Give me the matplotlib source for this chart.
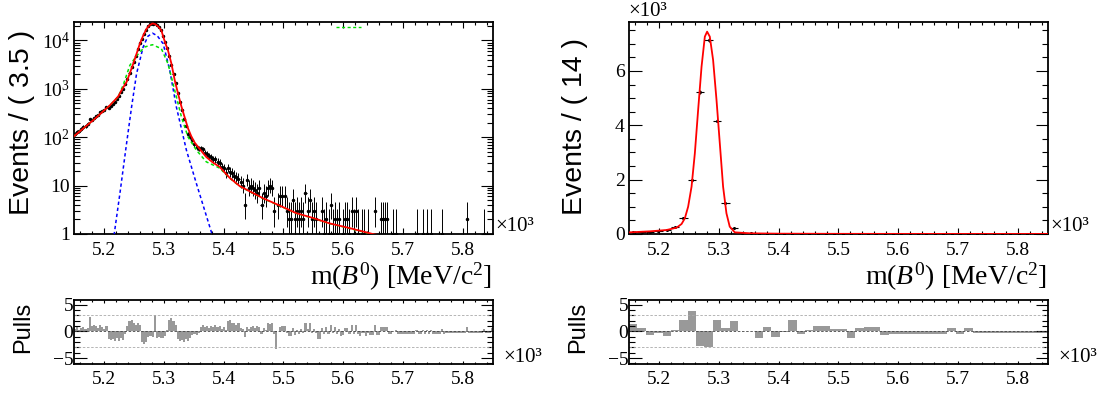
import numpy as np
import matplotlib
matplotlib.use("Agg")
import matplotlib.pyplot as plt
from matplotlib.ticker import MultipleLocator, FixedLocator, FixedFormatter, LogLocator, NullFormatter

plt.rcParams['font.family'] = ['Liberation Serif', 'DejaVu Serif']
plt.rcParams['mathtext.fontset'] = 'custom'
plt.rcParams['mathtext.rm'] = 'Liberation Serif'
plt.rcParams['mathtext.it'] = 'Liberation Serif:italic'
plt.rcParams['mathtext.bf'] = 'Liberation Serif:bold'
plt.rcParams['axes.unicode_minus'] = True

SANS = ['Liberation Sans', 'DejaVu Sans']

# ---------------- data: left (3.5 MeV bins, 5150-5850) ----------------
edges_left = np.linspace(5.15, 5.85, 201)
counts_left = [
    114, 127, 132, 147, 163, 171, 188, 234, 227, 248,
    269, 289, 324, 346, 371, 417, 403, 440, 494, 546,
    620, 696, 849, 1001, 1232, 1584, 2122, 2781, 3624, 4854,
    6560, 8762, 10602, 13253, 16753, 19659, 21582, 22225, 22424, 20577,
    18763, 16432, 12167, 9243, 6945, 4840, 3153, 2025, 1317, 811,
    532, 359, 242, 174, 117, 100, 87, 72, 62, 58,
    59, 56, 48, 45, 40, 39, 35, 35, 31, 29,
    24, 23, 18, 23, 19, 18, 16, 15, 14, 12,
    10, 4, 13, 9, 10, 9, 8, 7, 9, 4,
    7, 6, 9, 10, 9, 3, 0, 4, 6, 6,
    6, 3, 2, 2, 5, 2, 3, 2, 3, 2,
    7, 3, 5, 2, 3, 2, 0, 0, 3, 1,
    2, 1, 4, 1, 2, 1, 2, 0, 1, 2,
    2, 1, 3, 1, 3, 1, 0, 1, 1, 0,
    1, 0, 0, 3, 0, 0, 2, 2, 2, 2,
    0, 0, 1, 1, 0, 0, 0, 0, 0, 0,
    0, 0, 0, 1, 0, 0, 1, 0, 1, 0,
    1, 0, 0, 0, 0, 1, 0, 0, 0, 0,
    0, 0, 0, 0, 0, 0, 0, 2, 0, 0,
    0, 0, 0, 0, 0, 1, 0, 0, 0, 0,
]
pulls_left = [
    0.5, 0.8, 0.3, 0.6, 0.9, 0.5, 0.7, 2.8, 1.0, 1.2,
    1.0, 0.7, 1.2, 0.9, 0.5, 1.1, -1.4, -1.6, -1.5, -1.7,
    -1.3, -1.8, -1.2, -1.6, -0.5, 1.0, 2.0, 2.1, 1.6, 1.3,
    1.5, 1.2, -2.0, -2.3, -1.9, -1.0, -0.8, -1.1, 3.0, -1.2,
    -1.0, -1.3, -1.2, -0.9, 0.3, 2.2, 2.6, 2.0, 1.3, -1.5,
    -1.8, -1.6, -2.0, -1.4, -1.7, -1.2, -0.6, -0.4, -0.6, -0.2,
    0.8, 1.2, 0.9, 1.1, 0.7, 1.0, 0.8, 1.2, 0.9, 1.0,
    0.5, 0.8, 0.3, 2.0, 2.1, 1.5, 1.6, 1.2, 1.6, 0.6,
    0.4, -1.0, 0.9, 0.5, 0.8, 1.0, 0.6, 1.1, 0.9, -0.5,
    0.6, 0.3, 1.5, 1.4, 1.6, -0.4, -3.3, 0.1, 0.8, 1.0,
    1.0, -0.2, -0.9, -0.8, 0.6, -0.6, 0.3, -0.5, 0.4, -0.3,
    1.5, 0.4, 1.5, -0.3, 0.5, -0.2, -1.5, -1.4, 0.6, -0.5,
    0.9, -0.4, 1.3, -0.3, 0.8, -0.4, 0.5, -0.8, -0.6, 0.7,
    0.7, -0.5, 1.2, -0.4, 1.3, -0.4, -0.9, -0.3, -0.2, -0.8,
    -0.2, -0.7, -0.7, 1.3, -0.7, -0.6, 0.8, 0.8, 0.9, 0.9,
    -0.5, -0.5, 0.1, 0.2, -0.5, -0.5, -0.5, -0.5, -0.4, -0.4,
    -0.4, -0.4, -0.4, 0.3, -0.4, -0.4, 0.3, -0.4, 0.3, -0.4,
    0.3, -0.4, -0.4, -0.4, -0.4, 0.4, -0.4, -0.3, -0.3, -0.3,
    -0.3, -0.3, -0.3, -0.3, -0.3, -0.3, -0.3, 0.9, -0.3, -0.3,
    -0.3, -0.3, -0.3, -0.3, -0.3, 0.5, -0.3, -0.3, -0.3, 0.6,
]

# fit curves (mass in GeV, events / bin)
total_m = [5.150, 5.165, 5.182, 5.196, 5.210, 5.218, 5.224, 5.230, 5.2378, 5.243,
           5.249, 5.2545, 5.260, 5.2655, 5.2712, 5.276, 5.2812, 5.286, 5.291, 5.296,
           5.299, 5.303, 5.307, 5.3128, 5.3183, 5.324, 5.3295, 5.335, 5.3405, 5.346,
           5.3517, 5.360, 5.371, 5.382, 5.3933, 5.410, 5.4267, 5.4455, 5.4655, 5.493,
           5.5212, 5.549, 5.5767, 5.6045, 5.630, 5.6517, 5.700, 5.850]
total_n = [105, 150, 224, 320, 457, 580, 700, 960, 1380, 2050,
           3300, 5300, 8540, 12500, 17400, 20500, 22400, 21600, 19200, 16100,
           12000, 8500, 6220, 3300, 1500, 780, 430, 255, 152, 104,
           77, 57, 39, 30, 24.4, 14.5, 9.8, 7.4, 5.5, 3.9,
           2.7, 2.15, 1.66, 1.38, 1.15, 0.98, 0.8, 0.5]

narrow_m = [5.210, 5.2172, 5.2267, 5.2378, 5.2462, 5.2545, 5.2655, 5.2735, 5.2812, 5.289,
            5.299, 5.310, 5.321, 5.3378, 5.3545, 5.3805, 5.390]
narrow_n = [0.3, 1, 6.9, 74, 422, 2050, 7300, 12200, 14100, 12500,
            8540, 2420, 422, 54, 11, 1, 0.3]

wide_m = [5.150, 5.165, 5.182, 5.196, 5.210, 5.218, 5.224, 5.2322, 5.2433, 5.2545,
          5.268, 5.281, 5.296, 5.307, 5.3183, 5.3295, 5.3405, 5.3545, 5.371, 5.3933,
          5.410, 5.4267, 5.4455, 5.4655, 5.493, 5.5212, 5.549, 5.5767, 5.6045, 5.630,
          5.6517, 5.700, 5.850]
wide_n = [105, 150, 224, 320, 455, 575, 690, 1200, 3050, 4800,
          7300, 8150, 6740, 3300, 930, 262, 101, 54, 31, 23,
          14.3, 9.7, 7.3, 5.4, 3.85, 2.67, 2.12, 1.64, 1.36, 1.13,
          0.97, 0.79, 0.5]
wide_stray_m = [5.588, 5.630]
wide_stray_n = [18500, 18500]

# ---------------- data: right (14 MeV bins) ----------------
edges_right = np.linspace(5.15, 5.85, 51)
counts_right = [76, 86, 91, 118, 139, 250, 590, 1975, 5215, 7140,
                4170, 1130, 233, 51, 26, 13, 18, 9, 11, 17,
                8, 9, 10, 10, 7, 7, 2, 6, 7, 6,
                3, 2, 3, 2, 2, 3, 2, 2, 4, 2,
                4, 2, 1, 2, 2, 1, 2, 2, 1, 2]
pulls_right = [1.4, 0.7, -0.75, -0.2, -0.9, 0.2, 2.2, 3.9, -2.7, -3.0,
               2.2, 0.6, 1.9, 0.1, 0.1, -1.25, 0.9, -1.1, -0.1, 2.2,
               -0.5, 0.3, 1.0, 1.1, 0.4, 0.5, -1.2, 0.6, 0.8, 0.9,
               -0.75, -0.55, -0.55, -0.55, -0.5, -0.5, -0.5, -0.45, 0.6, -0.45,
               0.7, -0.3, -0.3, -0.3, -0.3, -0.3, -0.3, -0.3, -0.3, -0.3]
fit_right_m = [5.150, 5.1517, 5.185, 5.2128, 5.2295, 5.2378, 5.2433, 5.2488, 5.2545, 5.260,
               5.2655, 5.2712, 5.2767, 5.2805, 5.285, 5.2905, 5.2962, 5.3017, 5.3072, 5.3128,
               5.3183, 5.3267, 5.3517, 5.400, 5.500, 5.600, 5.700, 5.850]
fit_right_n = [58, 61, 98, 147, 233, 368, 577, 1005, 1741, 2969,
               4563, 6157, 7261, 7445, 7261, 6403, 4931, 3337, 1741, 761,
               270, 61, 25, 12, 6, 4, 3, 2.5]

# garwood 68% intervals for small counts
POIS_LO = [0.0, 0.827, 1.291, 1.633, 1.914, 2.159, 2.380, 2.581, 2.768, 2.943, 3.108]
POIS_HI = [1.841, 2.299, 2.638, 2.918, 3.162, 3.382, 3.583, 3.770, 3.944, 4.110, 4.266]


def poisson_err(n):
    n = np.asarray(n)
    lo = np.where(n <= 10, np.take(POIS_LO, np.minimum(n, 10)), np.sqrt(n + 0.25) - 0.5)
    hi = np.where(n <= 10, np.take(POIS_HI, np.minimum(n, 10)), np.sqrt(n + 0.25) + 0.5)
    return lo, hi


W, H = 1109, 394


def box(x0, y0, x1, y1):
    return [x0 / W, 1 - y1 / H, (x1 - x0) / W, (y1 - y0) / H]


TICK_FS = 14


def style_x(ax, major_len, minor_len, pad):
    ax.set_xlim(5.15, 5.85)
    ax.xaxis.set_major_locator(FixedLocator([5.2, 5.3, 5.4, 5.5, 5.6, 5.7, 5.8]))
    ax.xaxis.set_major_formatter(FixedFormatter(['5.2', '5.3', '5.4', '5.5', '5.6', '5.7', '5.8']))
    ax.xaxis.set_minor_locator(MultipleLocator(0.02))
    ax.tick_params(axis='x', which='major', direction='in', top=True, bottom=True,
                   length=major_len, width=0.8, labelsize=TICK_FS, pad=pad)
    ax.tick_params(axis='x', which='minor', direction='in', top=True, bottom=True,
                   length=minor_len, width=0.8)
    for s in ax.spines.values():
        s.set_linewidth(1.3)


fig = plt.figure(figsize=(W / 100, H / 100), dpi=100)

# ---------------- left top ----------------
ax = fig.add_axes(box(74, 22, 493, 234))
cl = 0.5 * (edges_left[:-1] + edges_left[1:])
cnt = np.array(counts_left)
keep = cnt > 0
lo, hi = poisson_err(cnt[keep])
ax.errorbar(cl[keep], cnt[keep], xerr=0.00175, yerr=[lo, hi], fmt='o', ms=1.5,
            color='k', ecolor='k', elinewidth=0.7, capsize=0, zorder=2)
ax.plot(narrow_m, narrow_n, color='#0000ff', ls=(0, (2.2, 1.8)), lw=1.1, zorder=3)
ax.plot(wide_m, wide_n, color='#00e000', ls=(0, (2.2, 1.8)), lw=1.1, zorder=3)
ax.plot(wide_stray_m, wide_stray_n, color='#00e000', ls=(0, (2.2, 1.8)), lw=1.0, zorder=3)
ax.plot(total_m, total_n, color='#ff0000', lw=1.3, zorder=4)
ax.set_yscale('log')
ax.set_ylim(1, 24000)
ax.yaxis.set_major_locator(FixedLocator([1, 10, 100, 1000, 10000]))
ax.yaxis.set_major_formatter(FixedFormatter(['1', '10', '$10^{2}$', '$10^{3}$', '$10^{4}$']))
ax.yaxis.set_minor_locator(LogLocator(base=10, subs=np.arange(2, 10)))
ax.yaxis.set_minor_formatter(NullFormatter())
ax.tick_params(axis='y', which='major', direction='in', left=True, right=True,
               length=9, width=0.8, labelsize=TICK_FS, pad=3)
ax.tick_params(axis='y', which='minor', direction='in', left=True, right=True, length=4.5, width=0.8)
style_x(ax, 4.5, 2.3, 6)
fig.text(495 / W, 1 - 226 / H, '×10³', fontsize=15, va='center', ha='left')
fig.text(492 / W, 1 - 285 / H, r'm($B^0$) [MeV/c$^2$]', fontsize=20, ha='right', va='baseline')
fig.text(22 / W, 1 - 215 / H, 'Events / ( 3.5 )', family=SANS, fontsize=20.5,
         rotation=90, ha='center', va='bottom')

# ---------------- right top ----------------
ax = fig.add_axes(box(629, 22, 1048, 234))
cr = 0.5 * (edges_right[:-1] + edges_right[1:])
cntr = np.array(counts_right)
ax.errorbar(cr, cntr, xerr=0.007, yerr=np.sqrt(cntr), fmt='o', ms=1.2,
            color='k', ecolor='k', elinewidth=0.8, capsize=0, zorder=2)
ax.plot(fit_right_m, fit_right_n, color='#ff0000', lw=1.3, zorder=4)
ax.set_ylim(0, 7800)
ax.yaxis.set_major_locator(FixedLocator([0, 2000, 4000, 6000]))
ax.yaxis.set_major_formatter(FixedFormatter(['0', '2', '4', '6']))
ax.yaxis.set_minor_locator(MultipleLocator(500))
ax.tick_params(axis='y', which='major', direction='in', left=True, right=True,
               length=9, width=0.8, labelsize=TICK_FS, pad=3)
ax.tick_params(axis='y', which='minor', direction='in', left=True, right=True, length=4.5, width=0.8)
style_x(ax, 4.5, 2.3, 6)
fig.text(1050 / W, 1 - 226 / H, '×10³', fontsize=15, va='center', ha='left')
fig.text(628 / W, 1 - 11 / H, '×10³', fontsize=15, va='center', ha='left')
fig.text(1047 / W, 1 - 285 / H, r'm($B^0$) [MeV/c$^2$]', fontsize=20, ha='right', va='baseline')
fig.text(575 / W, 1 - 215 / H, 'Events / ( 14 )', family=SANS, fontsize=20.5,
         rotation=90, ha='center', va='bottom')


# ---------------- pulls ----------------
def pulls_panel(rect, edges, pulls, xlab_x, ylab_x):
    ax = fig.add_axes(rect)
    ax.stairs(pulls, edges, baseline=0, fill=True, color='#999999', lw=0)
    ax.axhline(0, color='#444444', ls=(0, (3, 2)), lw=0.6)
    for v in (3, -3):
        ax.axhline(v, color='#aaaaaa', ls=(0, (3, 2)), lw=0.6)
    ax.set_ylim(-6.1, 5.9)
    ax.yaxis.set_major_locator(FixedLocator([-5, 0, 5]))
    ax.yaxis.set_major_formatter(FixedFormatter(['−5', '0', '5']))
    ax.yaxis.set_minor_locator(MultipleLocator(1))
    ax.tick_params(axis='y', which='major', direction='in', left=True, right=True,
                   length=9, width=0.8, labelsize=TICK_FS, pad=0.5)
    ax.tick_params(axis='y', which='minor', direction='in', left=True, right=True, length=4.5, width=0.8)
    style_x(ax, 2.2, 1.2, 5)
    fig.text(xlab_x / W, 1 - 358 / H, '×10³', fontsize=15, va='center', ha='left')
    fig.text(ylab_x / W, 1 - 353 / H, 'Pulls', family=SANS, fontsize=17,
             rotation=90, ha='center', va='bottom')
    return ax


pulls_panel(box(74, 300, 493, 364), edges_left, pulls_left, 503, 23)
pulls_panel(box(629, 300, 1048, 364), edges_right, pulls_right, 1058, 578)

fig.savefig('out.png', dpi=100)
